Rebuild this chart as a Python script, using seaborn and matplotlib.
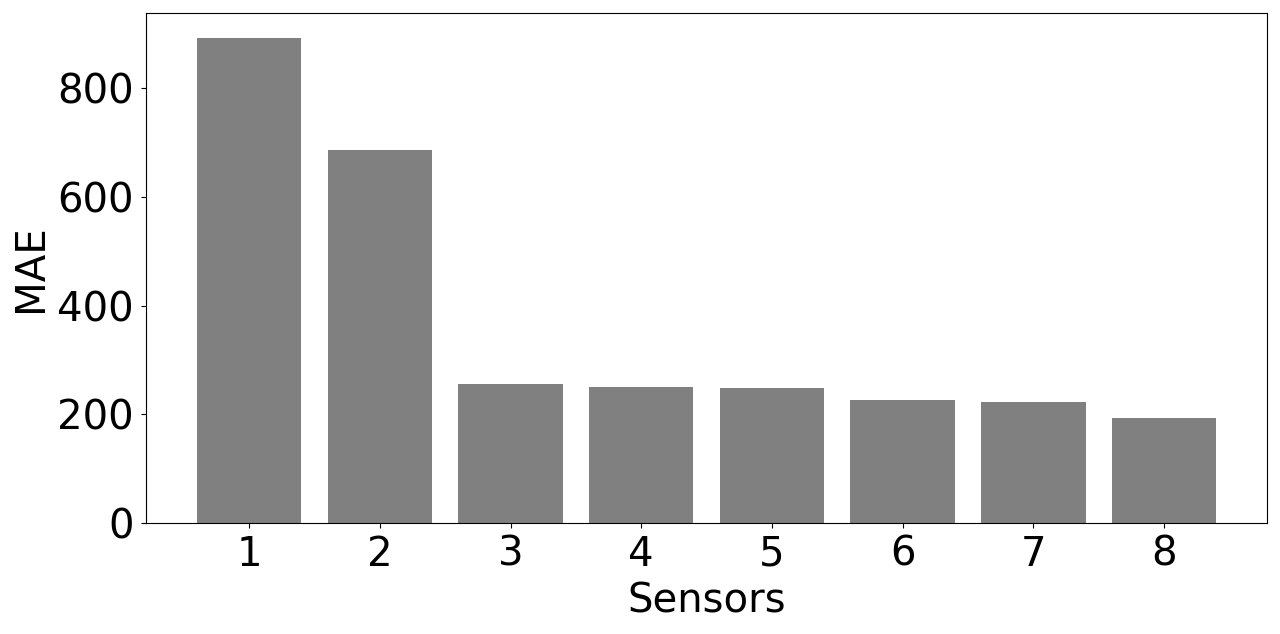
import pandas as pd
import seaborn as sns
import matplotlib.pyplot as plt

# MAE per sensor
sensors = ["1", "2", "3", "4", "5", "6", "7", "8"]
mae = [893, 686, 255, 251, 248, 226, 222, 193]

df = pd.DataFrame({"Sensors": sensors, "MAE": mae})

fig, ax = plt.subplots(figsize=(12.8, 6.34), dpi=100)
sns.barplot(data=df, x="Sensors", y="MAE", color="gray", saturation=1,
            width=0.8, ax=ax)
ax.set_xlim(-0.79, 7.79)
ax.set_ylim(0, 938)
ax.set_xlabel("Sensors", fontsize=29, labelpad=5)
ax.set_ylabel("MAE", fontsize=29, labelpad=5)
ax.tick_params(labelsize=29, pad=5)
for s in ax.spines.values():
    s.set_visible(True)
plt.subplots_adjust(left=0.114, right=0.990, top=0.979, bottom=0.175)
plt.savefig("out.png", dpi=100)
